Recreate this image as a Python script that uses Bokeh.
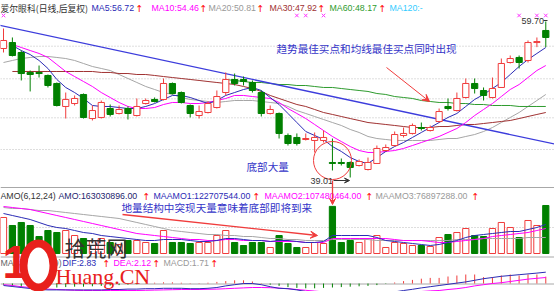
from bokeh.plotting import figure
from bokeh.models import Range1d, Label, Arrow, VeeHead, Span
from bokeh.embed import file_html
from bokeh.resources import INLINE

# ---------------- data ----------------
opens = [56.12, 56.91, 55.59, 52.94, 52.94, 52.54, 51.48, 48.43, 48.82, 50.02,
         46.83, 46.97, 48.16, 47.50, 48.16, 47.23, 48.82, 49.36, 49.36, 51.48,
         50.28, 48.56, 47.23, 47.63, 48.29, 50.28, 52.01, 52.01, 51.61, 50.28,
         47.50, 47.50, 44.58, 44.32, 44.05, 43.92, 43.92, 41.00, 41.00, 41.00,
         40.60, 40.07, 40.87, 42.59, 43.25, 44.58, 44.85, 45.64, 45.24, 46.44,
         48.43, 47.89, 49.62, 51.48, 50.55, 49.62, 50.95, 54.26, 54.93, 54.53,
         56.91, 58.51]
highs = [58.77, 57.58, 55.85, 53.20, 53.86, 52.67, 51.61, 50.28, 49.89, 50.15,
         48.56, 49.22, 48.69, 48.56, 48.43, 49.49, 49.49, 49.62, 52.14, 51.61,
         50.42, 48.69, 48.56, 49.09, 50.55, 52.94, 52.80, 52.40, 51.88, 50.55,
         48.56, 47.63, 44.85, 44.85, 44.85, 44.98, 45.24, 44.18, 41.53, 41.13,
         41.40, 41.66, 43.25, 43.39, 45.11, 45.64, 46.17, 46.30, 45.91, 48.16,
         49.49, 50.28, 52.14, 52.14, 50.95, 52.27, 54.79, 55.19, 55.19, 57.18,
         57.58, 59.70]
lows = [55.59, 55.06, 51.88, 50.42, 52.27, 50.95, 48.43, 46.83, 48.56, 46.83,
        46.57, 46.83, 47.10, 47.37, 46.70, 47.10, 48.69, 48.96, 49.22, 50.02,
        48.82, 46.97, 46.83, 47.50, 48.16, 49.89, 51.21, 51.21, 50.28, 47.10,
        47.37, 44.18, 43.25, 43.25, 43.92, 42.33, 43.65, 39.94, 40.60, 39.01,
        40.47, 39.94, 40.87, 42.46, 43.12, 44.32, 44.71, 45.24, 45.11, 46.30,
        47.89, 47.76, 49.49, 50.15, 49.22, 49.49, 50.95, 54.13, 53.47, 54.26,
        56.30, 56.30]
closes = [57.18, 55.19, 52.80, 52.67, 52.80, 51.21, 48.56, 49.36, 49.49, 46.97,
          47.89, 48.96, 47.37, 48.03, 47.50, 48.43, 49.22, 49.09, 51.48, 50.15,
          48.96, 47.50, 47.76, 48.82, 49.75, 52.01, 51.48, 51.74, 50.55, 47.50,
          48.03, 44.85, 43.52, 43.52, 44.18, 44.32, 44.32, 40.87, 40.87, 40.34,
          41.13, 41.00, 42.86, 42.99, 44.71, 44.85, 45.91, 45.51, 45.64, 47.76,
          48.16, 49.49, 51.48, 50.81, 49.89, 50.81, 54.13, 54.79, 54.26, 56.91,
          57.04, 57.58]

ma5_start = 1
ma5 = [56.52, 55.85, 55.32, 54.53, 53.47, 52.01, 50.95, 50.28, 49.49, 48.56,
       48.43, 48.43, 48.29, 48.16, 48.16, 48.43, 48.82, 49.36, 49.89, 49.89,
       49.62, 49.22, 48.82, 49.22, 49.89, 50.28, 50.68, 50.95, 50.55, 49.62,
       48.69, 47.50, 46.30, 45.11, 44.58, 44.05, 43.12, 42.46, 41.66, 41.13,
       40.87, 41.66, 42.46, 43.12, 43.65, 44.32, 44.98, 45.64, 46.30, 46.97,
       47.50, 48.43, 49.36, 50.02, 50.81, 51.61, 52.67, 53.73, 54.66, 55.46, 56.25]
ma10_start = 1
ma10 = [56.65, 56.25, 55.85, 55.46, 54.93, 54.00, 53.07, 52.40, 51.74, 51.08,
        50.28, 49.62, 48.96, 48.43, 48.16, 48.16, 48.29, 48.69, 48.96, 48.96,
        48.82, 48.82, 48.96, 49.22, 49.49, 49.89, 49.89, 49.75, 49.62, 49.49,
        48.96, 48.16, 47.50, 46.83, 46.04, 45.24, 44.45, 43.78, 43.12, 42.59,
        42.33, 42.33, 42.46, 42.59, 42.86, 43.25, 43.65, 44.05, 44.45, 44.98,
        45.51, 46.30, 47.23, 48.03, 48.82, 49.75, 50.68, 51.34, 52.27, 53.20, 53.86]
ma20_start = 0
ma20 = [54.26, 54.53, 54.79, 54.93, 55.06, 55.06, 54.93, 54.79, 54.53, 54.13,
        53.73, 53.47, 53.20, 52.67, 52.14, 51.61, 51.08, 50.68, 50.28, 50.02,
        49.62, 49.36, 49.22, 49.09, 48.96, 49.09, 49.22, 49.22, 49.22, 49.09,
        48.96, 48.82, 48.43, 47.89, 47.50, 47.10, 46.70, 46.30, 45.91, 45.38,
        44.98, 44.45, 44.18, 44.05, 43.92, 43.92, 43.92, 43.92, 43.92, 44.05,
        44.18, 44.18, 44.45, 44.71, 45.11, 45.64, 46.30, 46.97, 47.63, 48.43,
        49.22, 50.02]
ma30_start = 1
ma30 = [53.07, 53.07, 53.07, 53.07, 53.07, 53.07, 53.07, 53.07, 53.07, 53.07,
        52.94, 52.94, 52.80, 52.80, 52.67, 52.67, 52.54, 52.40, 52.27, 52.14,
        52.01, 51.88, 51.74, 51.61, 51.48, 51.34, 51.08, 50.81, 50.42, 49.89,
        49.49, 49.09, 48.69, 48.43, 48.03, 47.63, 47.37, 47.10, 46.83, 46.57,
        46.30, 46.17, 46.04, 45.91, 45.77, 45.64, 45.64, 45.64, 45.77, 45.77,
        45.91, 46.04, 46.04, 46.17, 46.30, 46.44, 46.57, 46.83, 47.10, 47.37, 47.63]
ma60_start = 25
ma60 = [52.01, 51.88, 51.74, 51.61, 51.61, 51.48, 51.34, 51.34, 51.21, 51.21,
        51.08, 50.95, 50.95, 50.81, 50.68, 50.55, 50.42, 50.15, 50.02, 49.75,
        49.62, 49.49, 49.22, 49.09, 48.96, 48.96, 48.82, 48.82, 48.69, 48.69,
        48.56, 48.56, 48.56, 48.43, 48.43, 48.43, 48.43]

# drawn trend line (bar index, price)
trend_x = [-1, 63]
trend_y = [59.34, 43.19]

amo = [122.3, 95.1, 105.3, 95.1, 57.7, 78.1, 71.3, 78.1, 61.1, 50.9,
       44.1, 50.9, 37.4, 30.6, 44.1, 44.1, 37.4, 34.0, 78.1, 37.4,
       37.4, 34.0, 37.4, 37.4, 61.1, 78.1, 37.4, 27.2, 37.4, 37.4,
       20.4, 61.1, 34.0, 20.4, 20.4, 37.4, 34.0, 160.0, 37.4, 44.1,
       37.4, 50.9, 61.1, 20.4, 37.4, 34.0, 27.2, 27.2, 23.8, 54.3,
       64.5, 71.3, 84.9, 61.1, 57.7, 84.9, 105.3, 88.3, 54.3, 112.1,
       95.1, 163.03]  # millions
maamo1 = [135.8, 129.0, 122.3, 115.5, 105.3, 95.1, 88.3, 84.9, 78.1, 71.3,
          67.9, 61.1, 57.7, 54.3, 50.9, 47.5, 44.1, 44.1, 47.5, 47.5,
          47.5, 44.1, 40.8, 40.8, 44.1, 50.9, 50.9, 47.5, 44.1, 44.1,
          40.8, 44.1, 44.1, 40.8, 37.4, 37.4, 40.8, 61.1, 61.1, 61.1,
          61.1, 61.1, 54.3, 44.1, 40.8, 37.4, 34.0, 30.6, 27.2, 30.6,
          37.4, 44.1, 54.3, 61.1, 64.5, 67.9, 71.3, 74.7, 74.7, 81.5,
          88.3, 98.5]
maamo2 = [159.6, 156.2, 152.8, 149.4, 142.6, 135.8, 129.0, 122.3, 115.5, 108.7,
          101.9, 95.1, 88.3, 81.5, 74.7, 67.9, 64.5, 61.1, 57.7, 54.3,
          50.9, 47.5, 47.5, 44.1, 44.1, 47.5, 47.5, 44.1, 44.1, 44.1,
          40.8, 40.8, 40.8, 40.8, 37.4, 37.4, 37.4, 50.9, 50.9, 50.9,
          50.9, 50.9, 50.9, 50.9, 47.5, 44.1, 44.1, 44.1, 40.8, 37.4,
          37.4, 40.8, 44.1, 47.5, 50.9, 57.7, 61.1, 64.5, 67.9, 71.3,
          78.1, 84.9]
maamo3 = [156.2, 152.8, 152.8, 149.4, 146.0, 146.0, 142.6, 139.2, 135.8, 132.4,
          129.0, 125.7, 122.3, 118.9, 112.1, 105.3, 98.5, 91.7, 84.9, 78.1,
          74.7, 71.3, 67.9, 64.5, 64.5, 61.1, 61.1, 57.7, 57.7, 54.3,
          50.9, 50.9, 47.5, 47.5, 44.1, 44.1, 44.1, 47.5, 47.5, 47.5,
          47.5, 47.5, 44.1, 44.1, 44.1, 44.1, 44.1, 44.1, 44.1, 44.1,
          44.1, 47.5, 47.5, 47.5, 50.9, 50.9, 50.9, 50.9, 50.9, 54.3,
          54.3, 54.3]

dif = [-0.5, -0.75, -1.0, -1.25, -1.5, -1.6, -1.6, -1.6, -1.6, -1.6,
       -1.6, -1.6, -1.5, -1.5, -1.4, -1.4, -1.3, -1.3, -1.2, -1.2,
       -1.2, -1.3, -1.3, -1.2, -1.0, -0.6, -0.3, 0.0, 0.0, -0.3,
       -0.8, -1.2, -1.3, -1.6, -2.0, -2.3, -2.6, -2.8, -2.9, -3.0,
       -3.0, -2.9, -2.7, -2.4, -2.1, -1.75, -1.45, -1.1, -0.8, -0.5,
       -0.2, 0.1, 0.4, 0.8, 1.2, 1.5, 1.8, 2.0, 2.2, 2.4,
       2.6, 2.83]
dea = [-0.3, -0.5, -0.8, -1.0, -1.2, -1.4, -1.5, -1.6, -1.7, -1.75,
       -1.75, -1.75, -1.75, -1.75, -1.75, -1.75, -1.7, -1.65, -1.6, -1.55,
       -1.5, -1.5, -1.5, -1.45, -1.4, -1.3, -1.2, -1.1, -1.0, -1.0,
       -1.05, -1.15, -1.3, -1.5, -1.7, -1.9, -2.1, -2.3, -2.5, -2.6,
       -2.7, -2.7, -2.7, -2.6, -2.5, -2.35, -2.2, -2.0, -1.85, -1.75,
       -1.5, -1.3, -1.0, -0.6, -0.3, 0.0, 0.2, 0.5, 0.8, 1.1,
       1.3, 1.5]
macd = [-0.3, -0.8, -1.0, -1.1, -1.1, -1.0, -1.0, -0.9, -0.8, -0.8,
        -0.7, -0.6, -0.5, -0.4, -0.3, -0.2, 0.1, 0.2, 0.3, 0.3,
        0.2, 0.1, 0.1, 0.2, 0.4, 0.6, 0.8, 0.8, 0.5, 0.1,
        -0.3, -0.6, -0.9, -1.1, -1.2, -1.2, -1.1, -1.0, -0.9, -0.8,
        -0.7, -0.6, -0.4, -0.1, 0.25, 0.6, 0.9, 1.2, 1.4, 1.4,
        1.75, 2.0, 2.25, 2.25, 1.6, 1.6, 2.0, 2.25, 2.0, 2.25,
        2.25, 1.71]

signal_bars = [0, 33, 34, 36, 58, 60, 61]

title_items = [("爱尔眼科(日线,后复权)", "#333333"), ("MA5:56.72", "#2b2bb5"),
               ("MA10:54.46", "#ff00ff"), ("MA20:50.81", "#999999"),
               ("MA30:47.92", "#a03232"), ("MA60:48.17", "#2e9b2e"), ("MA120:-", "#33ccff")]
vol_items = [("AMO(6,12,24)", "#333333"), ("AMO:163030896.00", "#24246e"),
             ("MAAMO1:122707544.00", "#2b2bb5"), ("MAAMO2:107480464.00", "#ff00ff"),
             ("MAAMO3:76897288.00", "#999999")]
macd_items = [("MACD(12,26,9)", "#666666"), ("DIF:2.83", "#2b2bb5"),
              ("DEA:2.12", "#ff00ff"), ("MACD:1.71", "#999999")]
note_trend = "趋势最佳买点和均线最佳买点同时出现"
note_bottom = "底部大量"
note_vol = "地量结构中突现天量意味着底部即将到来"
high_label = "59.70"
low_label = "39.01"

# ---------------- layout helpers (pixel -> data) ----------------
W, H = 554, 291
XSTEP = 8.89
YK = 0.13263
def px(x):
    return (x - 3) / XSTEP
def py(y):
    return 62.485 - y * YK

VOL_K = 3.396e6   # per pixel, zero at y=253
MACD_K = 0.25     # per pixel, zero at y=283

RED = "#f03c3c"
GREEN = "#008000"
CJK = "Noto Sans CJK SC"
LAT = "Liberation Sans"

p = figure(width=W, height=H, output_backend="svg", toolbar_location=None,
           x_range=Range1d(px(0), px(W)), y_range=Range1d(py(H), py(0)),
           x_axis_location=None, y_axis_location=None, min_border=0)
p.grid.visible = False
p.outline_line_color = None
p.background_fill_color = "white"
p.border_fill_color = "white"
p.extra_y_ranges = {
    "vol": Range1d(-(H - 253) * VOL_K, 253 * VOL_K),
    "macd": Range1d(-(H - 283) * MACD_K, 283 * MACD_K),
}

# grid / separators
for gy in [45.7, 78.3, 98.3, 117.3, 149.0, 227.0]:
    p.add_layout(Span(location=py(gy), dimension="width", line_color="#bdbdbd",
                      line_dash="1 2", line_width=1, level="underlay"))
for sy in [187.0, 256.5]:
    p.add_layout(Span(location=py(sy), dimension="width", line_color="#a8a8a8",
                      line_width=1, level="underlay"))
p.add_layout(Span(location=py(283.5), dimension="width", line_color="#a8a8a8",
                  line_width=1, level="underlay"))

n = len(closes)
idx = list(range(n))
up = [c >= o for o, c in zip(opens, closes)]
col = [RED if u else GREEN for u in up]
fill = ["white" if u else GREEN for u in up]
top = [max(o, c) for o, c in zip(opens, closes)]
bot = [min(o, c) for o, c in zip(opens, closes)]

# MA lines
def ma_line(start, vals, color, w=1.0):
    p.line(list(range(start, start + len(vals))), vals, line_color=color, line_width=w)

ma_line(ma20_start, ma20, "#a6a6a6")
ma_line(ma30_start, ma30, "#a03232")
ma_line(ma60_start, ma60, "#2e9b2e")
p.line(trend_x, trend_y, line_color="#3c3cdc", line_width=1.3)
ma_line(ma10_start, ma10, "#ff00ff")
ma_line(ma5_start, ma5, "#2b2bb5")

# candles
p.segment(idx, highs, idx, lows, line_color=col, line_width=1)
p.vbar(x=idx, width=0.7, top=top, bottom=bot, fill_color=fill, line_color=col, line_width=1)

# signal markers
p.scatter(signal_bars, [py(15)] * len(signal_bars), marker="x", size=5,
          line_color="#ff33ff", line_width=1)

# volume
vol = [v * 1e6 for v in amo]
p.vbar(x=idx, width=0.7, top=vol, bottom=0, fill_color=fill, line_color=col,
       line_width=1, y_range_name="vol")
p.line(idx, [v * 1e6 for v in maamo3], line_color="#a6a6a6", y_range_name="vol")
p.line(idx, [v * 1e6 for v in maamo2], line_color="#ff00ff", y_range_name="vol")
p.line(idx, [v * 1e6 for v in maamo1], line_color="#2b2bb5", y_range_name="vol")

# macd
mcol = [RED if m >= 0 else GREEN for m in macd]
p.segment(idx, [0] * n, idx, macd, line_color=mcol, line_width=1, y_range_name="macd")
p.line(idx, dea, line_color="#ff00ff", y_range_name="macd")
p.line(idx, dif, line_color="#2b2bb5", y_range_name="macd")

# ---------------- texts ----------------
def txt(xp, yp, s, color, size=9.0, font=LAT, style="normal", level="annotation"):
    p.add_layout(Label(x=px(xp), y=py(yp), text=s, text_color=color,
                       text_font_size=f"{size}px", text_font=font, text_font_style=style,
                       text_align="left", text_baseline="middle", level=level))

def arrow_up(xp, yp):
    txt(xp, yp, "↑", "#ff0000", 9.5, "DejaVu Sans")

title_x = [0, 91, 151, 208, 269, 329, 389]
for (s, c), xx in zip(title_items, title_x):
    txt(xx, 7.5, s, c, 8.8, CJK if xx == 0 else LAT)
for xx in [135, 199, 256, 317, 378]:
    arrow_up(xx, 7.5)

vol_x = [0, 58, 153, 264, 375]
for (s, c), xx in zip(vol_items, vol_x):
    txt(xx, 195.5, s, c, 8.8)
for xx in [142, 252, 365, 471]:
    arrow_up(xx, 195.5)

macd_x = [0, 62, 113, 163]
for (s, c), xx in zip(macd_items, macd_x):
    txt(xx, 262.5, s, c, 8.8)
for xx in [102, 152, 210]:
    arrow_up(xx, 262.5)

NOTE = "#3434c8"
txt(276, 48, note_trend, NOTE, 10.6, CJK)
txt(246, 166, note_bottom, NOTE, 10.6, CJK)
txt(121, 206.5, note_vol, NOTE, 10.6, CJK)
txt(521, 20, high_label, "#333333", 9.0)
txt(310, 180, low_label, "#333333", 9.0)
p.segment([px(543)], [py(20)], [px(547)], [py(20)], line_color="#333333")

# annotations: arrows and circle
p.add_layout(Arrow(end=VeeHead(size=7, line_color=RED, fill_color=RED, line_width=1),
                   x_start=px(386), y_start=py(67), x_end=px(429), y_end=py(101),
                   line_color=RED, line_width=1))
p.add_layout(Arrow(end=VeeHead(size=6, line_color=RED, fill_color=RED, line_width=1),
                   x_start=px(332), y_start=py(180), x_end=px(332), y_end=py(204),
                   line_color=RED, line_width=1.3))
p.add_layout(Arrow(end=VeeHead(size=7, line_color=RED, fill_color=RED, line_width=1),
                   x_start=px(122), y_start=py(214), x_end=px(317), y_end=py(235),
                   line_color=RED, line_width=1.3))
p.add_layout(Arrow(end=VeeHead(size=5, line_color="#333333", fill_color="#333333"),
                   x_start=px(333), y_start=py(180), x_end=px(349), y_end=py(180),
                   line_color="#333333", line_width=1))
p.scatter([px(332)], [py(160)], marker="circle", size=38, fill_color=None,
          line_color=RED, line_width=1)

# watermark
p.ellipse(x=[px(38)], y=[py(265)], width=[30], height=[44], width_units="screen",
          height_units="screen", fill_color="white", line_color="#e8201c",
          line_width=8, level="overlay")
txt(2, 261, "1", "#e8201c", 46, LAT, "bold", level="overlay")
txt(64, 246, "拾荒网", "#333333", 21, CJK, level="overlay")
txt(55, 276, "Huang.CN", "#e8201c", 22, "Liberation Sans Narrow", level="overlay")

open("out.html", "w").write(file_html(p, INLINE))
